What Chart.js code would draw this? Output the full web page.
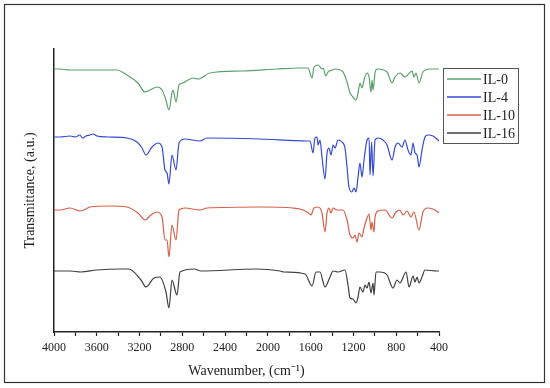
<!DOCTYPE html>
<html>
<head>
<meta charset="utf-8">
<script src="https://cdn.jsdelivr.net/npm/chart.js@4"></script>
<style>
  html, body { margin: 0; padding: 0; background: #fff; }
  #wrap { width: 550px; height: 388px; }
</style>
</head>
<body>
<div id="wrap"><canvas id="ftirChart" width="550" height="388"></canvas></div>
<script>
// wavenumbers (cm-1) and offset transmittance
const il0Wn = [4000, 3944, 3850, 3663, 3411, 3318, 3215, 3149, 3102, 3037, 2990, 2953, 2925, 2897, 2887, 2859, 2831, 2794, 2747, 2700, 2653, 2541, 2233, 1915, 1700, 1625, 1587, 1569, 1531, 1494, 1485, 1457, 1438, 1400, 1372, 1298, 1260, 1232, 1204, 1176, 1157, 1139, 1120, 1101, 1073, 1054, 1036, 1026, 1017, 998, 980, 886, 839, 811, 765, 718, 652, 634, 615, 587, 550, 484, 400];
const il0T = [263, 263, 262, 262, 262, 257, 249, 240, 242, 245, 242, 232, 222, 239, 242, 230, 247, 249, 252, 254, 253, 259, 261, 263, 264, 264, 254, 265, 267, 263, 264, 256, 260, 262, 263, 260, 250, 239, 235, 232, 239, 249, 244, 252, 259, 255, 240, 252, 242, 259, 263, 260, 249, 255, 259, 255, 261, 255, 259, 249, 260, 263, 263];

const il4Wn = [4000, 3944, 3850, 3800, 3757, 3735, 3700, 3663, 3635, 3598, 3500, 3318, 3224, 3177, 3140, 3084, 3027, 2990, 2962, 2943, 2925, 2897, 2859, 2831, 2775, 2635, 2569, 2074, 1634, 1606, 1578, 1560, 1541, 1531, 1513, 1494, 1466, 1447, 1429, 1410, 1391, 1372, 1344, 1307, 1279, 1260, 1242, 1214, 1195, 1176, 1157, 1139, 1120, 1101, 1073, 1054, 1045, 1030, 1017, 998, 970, 924, 886, 839, 811, 783, 746, 718, 690, 662, 643, 624, 605, 587, 559, 531, 503, 456, 409, 400];
const il4T = [195, 195, 196, 195, 197, 194, 196, 197, 198, 196, 195, 194, 190, 184, 177, 185, 189, 185, 162, 159, 148, 177, 162, 189, 193, 191, 194, 193, 191, 191, 179, 194, 195, 187, 192, 175, 153, 179, 184, 177, 187, 184, 192, 190, 184, 165, 145, 140, 144, 140, 155, 169, 155, 172, 192, 194, 157, 190, 156, 192, 194, 192, 187, 172, 185, 189, 185, 192, 182, 177, 189, 179, 177, 165, 182, 195, 197, 196, 192, 191];

const il10Wn = [4000, 3944, 3850, 3757, 3700, 3663, 3476, 3318, 3215, 3149, 3093, 3037, 2990, 2962, 2943, 2925, 2897, 2859, 2831, 2775, 2635, 2569, 2074, 1765, 1700, 1634, 1597, 1569, 1531, 1494, 1466, 1447, 1429, 1410, 1391, 1354, 1298, 1260, 1232, 1204, 1186, 1167, 1148, 1120, 1101, 1073, 1054, 1036, 1026, 1008, 998, 970, 905, 839, 802, 765, 736, 699, 662, 634, 587, 550, 503, 409, 400];
const il10T = [122, 122, 124, 121, 123, 125, 126, 125, 119, 112, 117, 120, 115, 92, 92, 75, 107, 92, 122, 124, 122, 124, 125, 124, 123, 120, 117, 124, 125, 119, 100, 119, 124, 119, 124, 122, 122, 112, 97, 94, 97, 90, 99, 95, 104, 114, 118, 102, 110, 100, 115, 121, 122, 114, 120, 122, 117, 121, 115, 120, 102, 120, 124, 120, 119];

const il16Wn = [4000, 3850, 3748, 3600, 3380, 3300, 3187, 3140, 3065, 3010, 2953, 2925, 2897, 2850, 2822, 2690, 2625, 2110, 1887, 1850, 1653, 1587, 1550, 1513, 1466, 1419, 1391, 1344, 1279, 1251, 1232, 1204, 1176, 1157, 1139, 1111, 1092, 1073, 1054, 1036, 1017, 1008, 989, 952, 886, 830, 793, 765, 708, 680, 643, 624, 605, 587, 559, 531, 419, 400];
const il16T = [61, 61, 60, 62, 63, 63, 52, 45, 54, 55, 40, 24, 52, 37, 60, 63, 61, 63, 61, 60, 58, 46, 60, 60, 45, 55, 61, 60, 62, 47, 34, 33, 29, 35, 45, 40, 47, 44, 50, 39, 49, 37, 60, 60, 57, 44, 52, 49, 60, 45, 56, 50, 55, 49, 55, 62, 61, 61];

const seriesNames = ['IL-0', 'IL-4', 'IL-10', 'IL-16'];
const seriesColors = ['rgb(92,160,112)', 'rgb(52,74,210)', 'rgb(214,96,72)', 'rgb(64,64,64)'];
const xTicks = [4000, 3600, 3200, 2800, 2400, 2000, 1600, 1200, 800, 400];

const serif = '"Liberation Serif", "Times New Roman", serif';

const toPoints = (wn, t) => wn.map((w, i) => ({ x: w, y: t[i] }));
const allWn = [il0Wn, il4Wn, il10Wn, il16Wn];
const allT = [il0T, il4T, il10T, il16T];

const datasets = seriesNames.map((name, i) => ({
    label: name,
    data: toPoints(allWn[i], allT[i]),
    borderColor: seriesColors[i],
    borderWidth: 1.2,
    pointRadius: 0,
    cubicInterpolationMode: 'monotone',
    fill: false
}));

// white page + thin frame round the whole picture
const framePlugin = {
    id: 'frame',
    beforeDraw(chart) {
        const ctx = chart.ctx;
        ctx.save();
        ctx.fillStyle = '#fff';
        ctx.fillRect(0, 0, chart.width, chart.height);
        ctx.strokeStyle = '#333';
        ctx.lineWidth = 1.2;
        ctx.strokeRect(4.5, 4.5, 540, 378);
        ctx.restore();
    }
};

// boxed legend with line samples, to the right of the plot
const boxLegend = {
    id: 'boxLegend',
    afterDraw(chart) {
        const ctx = chart.ctx;
        const x0 = 443.5, y0 = 68.5, w = 75, h = 75;
        ctx.save();
        ctx.strokeStyle = '#555';
        ctx.lineWidth = 1;
        ctx.strokeRect(x0, y0, w, h);
        ctx.font = '14px ' + serif;
        ctx.textBaseline = 'middle';
        ctx.textAlign = 'left';
        seriesNames.forEach((name, i) => {
            const y = 79 + i * 18;
            ctx.strokeStyle = seriesColors[i];
            ctx.lineWidth = 1.5;
            ctx.beginPath();
            ctx.moveTo(447, y);
            ctx.lineTo(481, y);
            ctx.stroke();
            ctx.fillStyle = '#222';
            ctx.fillText(name, 483, y + 1);
        });
        ctx.restore();
    }
};

new Chart(document.getElementById('ftirChart'), {
    type: 'line',
    data: { datasets: datasets },
    options: {
        responsive: false,
        animation: false,
        events: [],
        layout: { padding: { left: 0, right: 111, top: 49, bottom: 0 } },
        plugins: {
            legend: { display: false },
            tooltip: { enabled: false }
        },
        scales: {
            x: {
                type: 'linear',
                reverse: true,
                min: 400,
                max: 4000,
                afterFit(scale) { scale.height = 56; },
                afterBuildTicks(scale) {
                    const t = [];
                    for (let v = 4000; v >= 400; v -= 200) t.push({ value: v });
                    scale.ticks = t;
                },
                border: { display: true, color: '#222', width: 1.5 },
                grid: { drawOnChartArea: false, drawTicks: true, tickLength: 4, tickColor: '#222', tickWidth: 1.2 },
                ticks: {
                    autoSkip: false,
                    maxRotation: 0,
                    padding: 5,
                    color: '#222',
                    font: { family: serif, size: 12 },
                    callback: (v) => xTicks.includes(v) ? String(v) : ''
                },
                title: {
                    display: true,
                    text: 'Wavenumber, (cm\u207B\u00B9)',
                    color: '#222',
                    font: { family: serif, size: 14 },
                    padding: { top: 0, bottom: 8 }
                }
            },
            y: {
                min: 0,
                max: 283,
                afterFit(scale) { scale.width = 54; },
                border: { display: true, color: '#222', width: 1.5 },
                grid: { display: false, drawTicks: false },
                ticks: { display: false },
                title: {
                    display: true,
                    text: 'Transmittance, (a.u.)',
                    color: '#222',
                    font: { family: serif, size: 14 },
                    padding: { top: 22, bottom: 0 }
                }
            }
        }
    },
    plugins: [framePlugin, boxLegend]
});
</script>
</body>
</html>
